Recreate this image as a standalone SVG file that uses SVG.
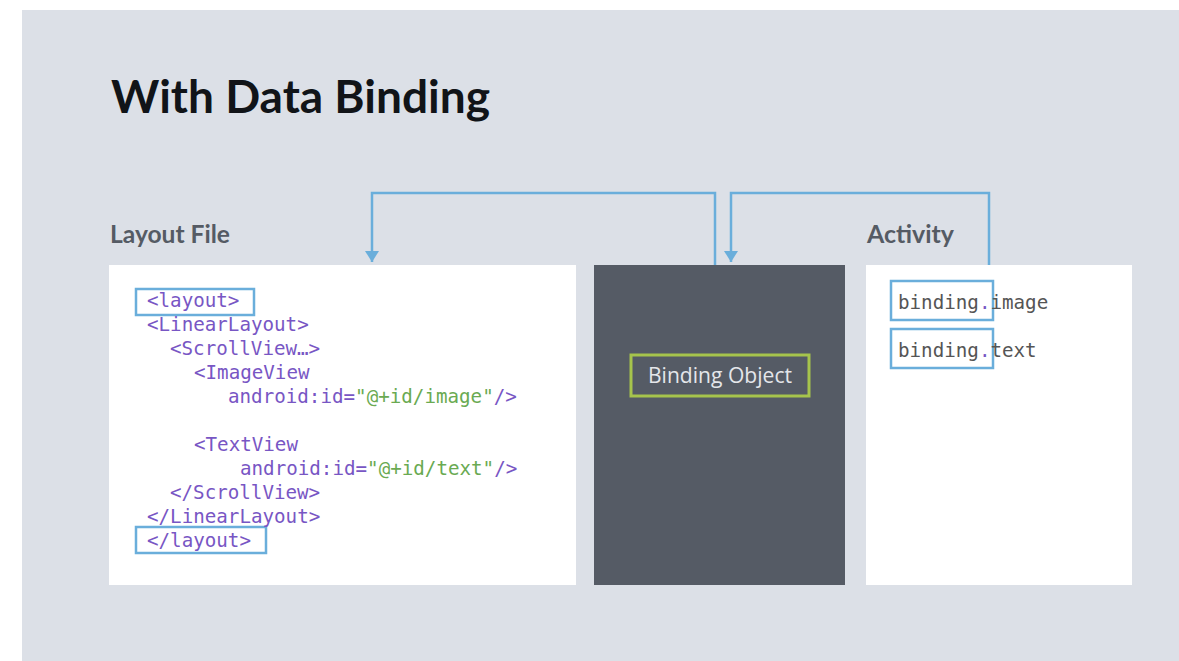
<svg xmlns="http://www.w3.org/2000/svg" width="1179" height="661" viewBox="0 0 1179 661">
  <style>
    .title { font-family: Lato, "Open Sans", sans-serif; font-weight: 700; font-size: 45px; fill: #111418; }
    .heading { font-family: Lato, "Open Sans", sans-serif; font-weight: 700; font-size: 25px; fill: #555b64; }
    .code { font-family: "DejaVu Sans Mono", "Liberation Mono", monospace; font-size: 19.2px; fill: #7856c4; }
    .str { fill: #6aaa52; }
    .plain { fill: #555555; }
    .hl { fill: none; stroke: #6aaedb; stroke-width: 2.5; }
    .wire { fill: none; stroke: #6aaedb; stroke-width: 2.5; }
    .label { font-family: "Open Sans", sans-serif; font-size: 22px; fill: #e4e6ea; }
  </style>
  <defs>
    <marker id="arrow" viewBox="0 0 11 14" refX="11" refY="7" markerWidth="11" markerHeight="14" markerUnits="userSpaceOnUse" orient="auto">
      <path d="M0,0 L11,7 L0,14 Z" fill="#6aaedb"/>
    </marker>
  </defs>

  <!-- backdrop -->
  <rect x="0" y="0" width="1179" height="661" fill="#ffffff"/>
  <rect x="22" y="10" width="1157" height="651" fill="#dce0e7"/>

  <text class="title" x="111" y="113" textLength="379" lengthAdjust="spacingAndGlyphs">With Data Binding</text>

  <!-- connectors -->
  <g id="connectors">
    <path class="wire" d="M715,265 V193 H372 V262" marker-end="url(#arrow)"/>
    <path class="wire" d="M989,265 V193 H731 V262" marker-end="url(#arrow)"/>
  </g>

  <!-- layout file -->
  <g id="layout-file">
    <text class="heading" x="110" y="243" textLength="120" lengthAdjust="spacingAndGlyphs">Layout File</text>
    <rect x="109" y="265" width="467" height="320" fill="#ffffff"/>
    <rect class="hl" x="136" y="289" width="118" height="26"/>
    <rect class="hl" x="136" y="527" width="130" height="26"/>
    <text class="code" x="147" y="307">&lt;layout&gt;</text>
    <text class="code" x="147" y="331">&lt;LinearLayout&gt;</text>
    <text class="code" x="170" y="355">&lt;ScrollView…&gt;</text>
    <text class="code" x="194" y="379">&lt;ImageView</text>
    <text class="code" x="228" y="403">android:id=<tspan class="str">"@+id/image"</tspan>/&gt;</text>
    <text class="code" x="194" y="451">&lt;TextView</text>
    <text class="code" x="240" y="475">android:id=<tspan class="str">"@+id/text"</tspan>/&gt;</text>
    <text class="code" x="170" y="499">&lt;/ScrollView&gt;</text>
    <text class="code" x="147" y="523">&lt;/LinearLayout&gt;</text>
    <text class="code" x="147" y="547">&lt;/layout&gt;</text>
  </g>

  <!-- binding object -->
  <g id="binding-object">
    <rect x="594" y="265" width="251" height="320" fill="#555b65"/>
    <rect x="631" y="355" width="178" height="41" fill="none" stroke="#a6c44c" stroke-width="3"/>
    <text class="label" x="648" y="383" textLength="144" lengthAdjust="spacingAndGlyphs">Binding Object</text>
  </g>

  <!-- activity -->
  <g id="activity">
    <text class="heading" x="867" y="243" textLength="87" lengthAdjust="spacingAndGlyphs">Activity</text>
    <rect x="866" y="265" width="266" height="320" fill="#ffffff"/>
    <rect class="hl" x="891" y="281" width="102" height="39"/>
    <rect class="hl" x="891" y="329" width="102" height="39"/>
    <text class="code plain" x="898" y="309">binding<tspan fill="#7856c4">.</tspan>image</text>
    <text class="code plain" x="898" y="357">binding<tspan fill="#7856c4">.</tspan>text</text>
  </g>
</svg>
